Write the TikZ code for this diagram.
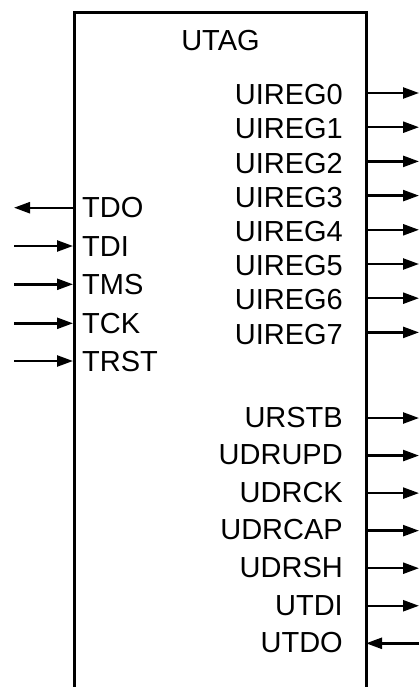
\documentclass[tikz,border=0pt]{standalone}
\usepackage{fontspec}
\setmainfont{Liberation Sans}
\usetikzlibrary{positioning,arrows.meta}

\begin{document}
\begin{tikzpicture}[
    x=1pt, y=-1pt,
    every node/.style={font=\fontsize{29}{35}\selectfont, inner sep=0pt, text height=20.5pt, text depth=0pt},
    block/.style={draw, line width=3pt, minimum width=292pt, minimum height=720pt, anchor=north west},
    sig/.style={line width=2.4pt, -{Triangle[length=16pt,width=11pt]}}
]
\clip (0,0) rectangle (419,687);

% Block
\node[block] (utag) at (73,11) {};
\node[below=19pt of utag.north] (title) {UTAG};

% JTAG side (left)
\foreach \n/\y in {TDO/207.7, TDI/246, TMS/284.3, TCK/323.3, TRST/361} {
    \coordinate (\n-in) at (73,\y);
    \coordinate (\n-out) at (14,\y);
    \node[right=9pt of \n-in] (\n) {\n};
}
\draw[sig] (TDO-in) -- (TDO-out);
\foreach \n in {TDI,TMS,TCK,TRST}
    \draw[sig] (\n-out) -- (\n-in);

% User registers (right)
\foreach \n [count=\i from 0] in {UIREG0,UIREG1,UIREG2,UIREG3,UIREG4,UIREG5,UIREG6,UIREG7} {
    \pgfmathsetmacro\y{93+34.2*\i}
    \coordinate (\n-in) at (365,\y);
    \coordinate (\n-out) at (419,\y);
    \node[left=22pt of \n-in, yshift=-1.5pt] (\n) {\n};
    \draw[sig] (\n-in) -- (\n-out);
}

% User control signals (right)
\foreach \n [count=\i from 0] in {URSTB,UDRUPD,UDRCK,UDRCAP,UDRSH,UTDI,UTDO} {
    \pgfmathsetmacro\y{418+37.55*\i}
    \coordinate (\n-in) at (366,\y);
    \coordinate (\n-out) at (419,\y);
    \node[left=23pt of \n-in, yshift=1pt] (\n) {\n};
}
\foreach \n in {URSTB,UDRUPD,UDRCK,UDRCAP,UDRSH,UTDI}
    \draw[sig] (\n-in) -- (\n-out);
\draw[sig] (UTDO-out) -- (UTDO-in);

\end{tikzpicture}
\end{document}
